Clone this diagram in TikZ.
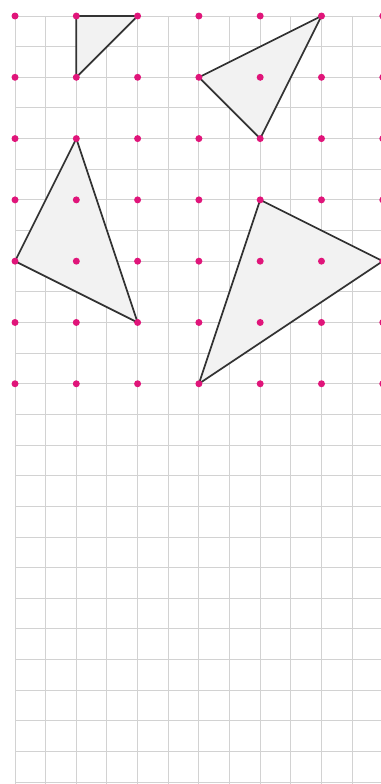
\documentclass[tikz,border=0pt]{standalone}
\usepackage{tikz}

\definecolor{gridgray}{HTML}{D2D2D2}
\definecolor{dotpink}{HTML}{E0157A}
\definecolor{trifill}{HTML}{F2F2F2}
\definecolor{triline}{HTML}{333333}

\tikzset{
  gridline/.style={gridgray, line width=0.45pt},
  gridpoint/.style={fill=dotpink, draw=none},
  triangle/.style={fill=trifill, draw=triline, line width=0.8pt, line join=round}
}

\begin{document}
\begin{tikzpicture}
    \useasboundingbox (-0.245,0.261) rectangle (5.97,-12.53);
    \clip (-0.245,0.261) rectangle (5.97,-12.53);

    % Squared paper
    \draw[gridline, step=0.5] (0,-12.6) grid (6.3,0);

    % Lattice points, named d-col-row
    \foreach \c in {0,...,6} {
      \foreach \r in {0,...,6} {
        \coordinate (d-\c-\r) at (\c,-\r);
      }
    }

    % Triangles
    \foreach \a/\b/\e in {1-0/2-0/1-1, 5-0/3-1/4-2, 1-2/0-4/2-5, 4-3/6-4/3-6} {
      \filldraw[triangle] (d-\a) -- (d-\b) -- (d-\e) -- cycle;
    }

    % Draw points on top
    \foreach \c in {0,...,6} {
      \foreach \r in {0,...,6} {
        \fill[gridpoint] (d-\c-\r) circle (0.057);
      }
    }
\end{tikzpicture}
\end{document}
